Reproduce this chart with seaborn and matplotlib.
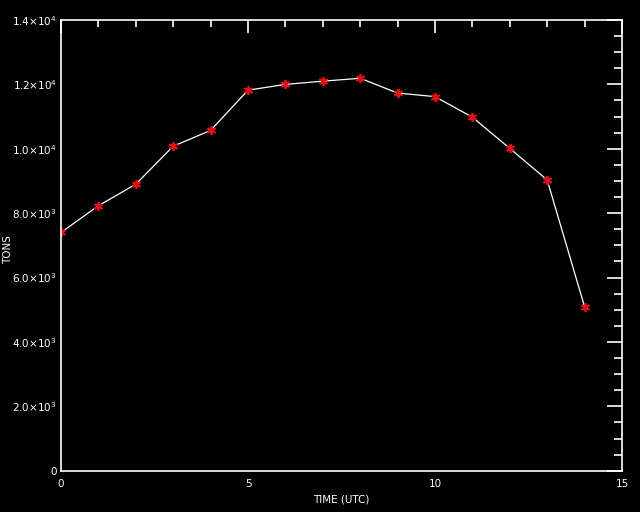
import matplotlib
matplotlib.use("Agg")
import matplotlib.pyplot as plt
from matplotlib.ticker import MultipleLocator, FixedLocator
import seaborn as sns
import pandas as pd

hours = [0, 1, 2, 3, 4, 5, 6, 7, 8, 9, 10, 11, 12, 13, 14]
tons = [7400, 8230, 8900, 10080, 10570, 11820, 12000, 12100, 12190,
        11730, 11620, 10980, 10010, 9030, 5090]
y_ticks = [0, 2000, 4000, 6000, 8000, 10000, 12000, 14000]
y_tick_labels = ["0", r"$2.0{\times}10^{3}$", r"$4.0{\times}10^{3}$", r"$6.0{\times}10^{3}$",
                 r"$8.0{\times}10^{3}$", r"$1.0{\times}10^{4}$", r"$1.2{\times}10^{4}$",
                 r"$1.4{\times}10^{4}$"]
x_ticks = [0, 5, 10, 15]
x_tick_labels = ["0", "5", "10", "15"]

df = pd.DataFrame({"hour": hours, "tons": tons})

sns.set_style("dark")
plt.rcParams["font.family"] = ["DejaVu Sans"]
plt.rcParams["mathtext.fontset"] = "dejavusans"

fig = plt.figure(figsize=(6.4, 5.12), dpi=100, facecolor="black")
ax = fig.add_axes([61/640, 1 - 470.7/512, (622 - 61)/640, (470.7 - 20)/512])
ax.set_facecolor("black")

sns.lineplot(data=df, x="hour", y="tons", ax=ax, color="white", linewidth=0.9,
             marker=(6, 2, 0), markersize=6.5, markeredgewidth=1.3,
             markeredgecolor="#e0101a", markerfacecolor="#e0101a")

ax.set_xlim(0, 15)
ax.set_ylim(0, 14000)
ax.xaxis.set_major_locator(FixedLocator(x_ticks))
ax.set_xticklabels(x_tick_labels)
ax.xaxis.set_minor_locator(MultipleLocator(1))
ax.yaxis.set_major_locator(FixedLocator(y_ticks))
ax.set_yticklabels(y_tick_labels)
ax.yaxis.set_minor_locator(MultipleLocator(500))

for s in ax.spines.values():
    s.set_visible(True)
    s.set_color("white")
    s.set_linewidth(1.2)
ax.grid(False)

ax.tick_params(which="both", direction="in", colors="white", top=True, right=True,
               labelsize=7.5, width=1.2)
ax.tick_params(axis="y", which="major", length=11, pad=3)
ax.tick_params(axis="y", which="minor", length=6)
ax.tick_params(axis="x", which="major", length=9, pad=6)
ax.tick_params(axis="x", which="minor", length=5)
for lbl in ax.get_xticklabels() + ax.get_yticklabels():
    lbl.set_color("white")

ax.set_xlabel("TIME (UTC)", color="white", fontsize=7.5, labelpad=4)
ax.set_ylabel("")
fig.text(8/640, 1 - 250/512, "TONS", rotation=90, color="white", fontsize=7.5,
         ha="center", va="center")

fig.savefig("out.png", dpi=100, facecolor="black")
